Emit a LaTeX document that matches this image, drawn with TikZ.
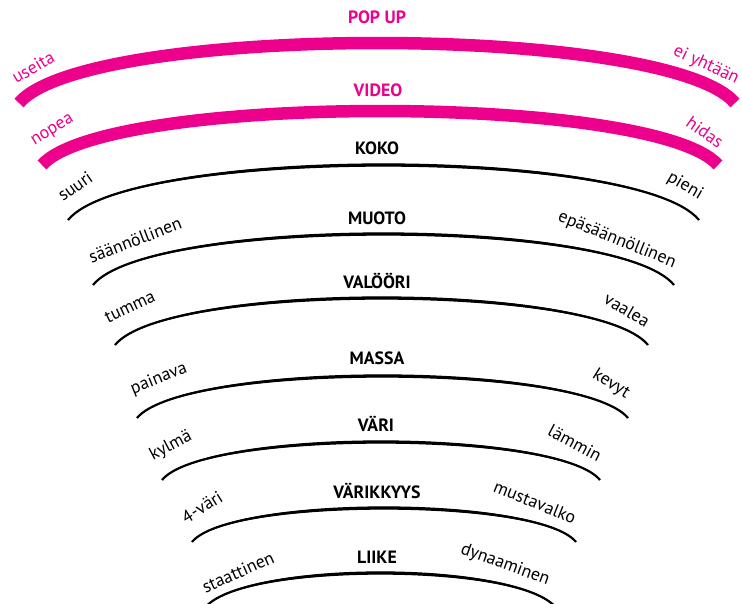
\documentclass[tikz,border=0pt]{standalone}
\usepackage{fontspec}
\setmainfont{PT Sans}
\definecolor{mag}{RGB}{236,0,140}
\newcommand{\blackarc}[4]{%
  \pgfmathsetmacro{\uu}{0.19*(#2-#1)/2}%
  \pgfmathsetmacro{\hh}{#4/0.75}%
  \fill[black] (#1,#3) .. controls +(\uu,-\hh-2.2) and +(-\uu,-\hh-2.2) .. (#2,#3)
     .. controls +(-\uu,-\hh+2.2) and +(\uu,-\hh+2.2) .. (#1,#3) -- cycle;
  \draw[thinarc] (#1,#3) .. controls +(\uu,-\hh) and +(-\uu,-\hh) .. (#2,#3);
}
\newcommand{\magarc}[4]{%
  \pgfmathsetmacro{\uu}{0.19*(#2-#1)/2}%
  \pgfmathsetmacro{\hh}{#4/0.75}%
  \draw[thickarc] (#1,#3) .. controls +(\uu,-\hh) and +(-\uu,-\hh) .. (#2,#3);
}
\tikzset{
  thinarc/.style={line width=2.2pt, line cap=butt, draw=black},
  thickarc/.style={line width=12.5pt, line cap=butt, draw=mag},
  title/.style={font=\fontsize{17.8}{20}\selectfont\bfseries, anchor=base, inner sep=0pt},
  lbl/.style={font=\fontsize{17.8}{20}\selectfont, inner sep=0pt},
}
\begin{document}
\begin{tikzpicture}[x=1pt,y=-1pt]
\clip (0,0) rectangle (742,603);
\fill[white] (0,0) rectangle (742,603);
% arcs
\magarc{19}{735}{103}{60}
\magarc{42}{718}{165}{54}
\blackarc{68}{699}{220}{55}
\blackarc{93}{674}{285}{51}
\blackarc{115}{648}{345}{47}
\blackarc{137}{628}{418}{42}
\blackarc{162}{600}{480}{38}
\blackarc{192}{576}{542}{34}
\blackarc{204}{557}{609}{36}
% titles
\node[title, text=mag] (t1) at (377,23) {POP UP};
\node[title, text=mag] (t2) at (378,96) {VIDEO};
\node[title] (t3) at (377,154) {KOKO};
\node[title] (t4) at (377,224) {MUOTO};
\node[title] (t5) at (377,288) {VALÖÖRI};
\node[title] (t6) at (377,364) {MASSA};
\node[title] (t7) at (376,431) {VÄRI};
\node[title] (t8) at (377,498) {VÄRIKKYYS};
\node[title] (t9) at (377,563) {LIIKE};
% left labels
\node[lbl, text=mag, rotate=30] (l1) at (33,67) {useita};
\node[lbl, text=mag, rotate=32] (l2) at (53,131) {nopea};
\node[lbl, rotate=35] (l3) at (75,186) {suuri};
\node[lbl, rotate=21] (l4) at (135,240) {säännöllinen};
\node[lbl, rotate=25] (l5) at (130,307) {tumma};
\node[lbl, rotate=22] (l6) at (159,379) {painava};
\node[lbl, rotate=28] (l7) at (171,446) {kylmä};
\node[lbl, rotate=32] (l8) at (202,507) {4-väri};
\node[lbl, rotate=24] (l9) at (238,572) {staattinen};
% right labels
\node[lbl, text=mag, rotate=-25] (r1) at (706,65) {ei yhtään};
\node[lbl, text=mag, rotate=-35] (r2) at (705,132) {hidas};
\node[lbl, rotate=-30] (r3) at (685,186) {pieni};
\node[lbl, rotate=-22] (r4) at (617,240) {epäsäännöllinen};
\node[lbl, rotate=-30] (r5) at (627,310) {vaalea};
\node[lbl, rotate=-32] (r6) at (611,384) {kevyt};
\node[lbl, rotate=-28] (r7) at (575,443) {lämmin};
\node[lbl, rotate=-22] (r8) at (535,502) {mustavalko};
\node[lbl, rotate=-20] (r9) at (505,565) {dynaaminen};
\end{tikzpicture}
\end{document}
